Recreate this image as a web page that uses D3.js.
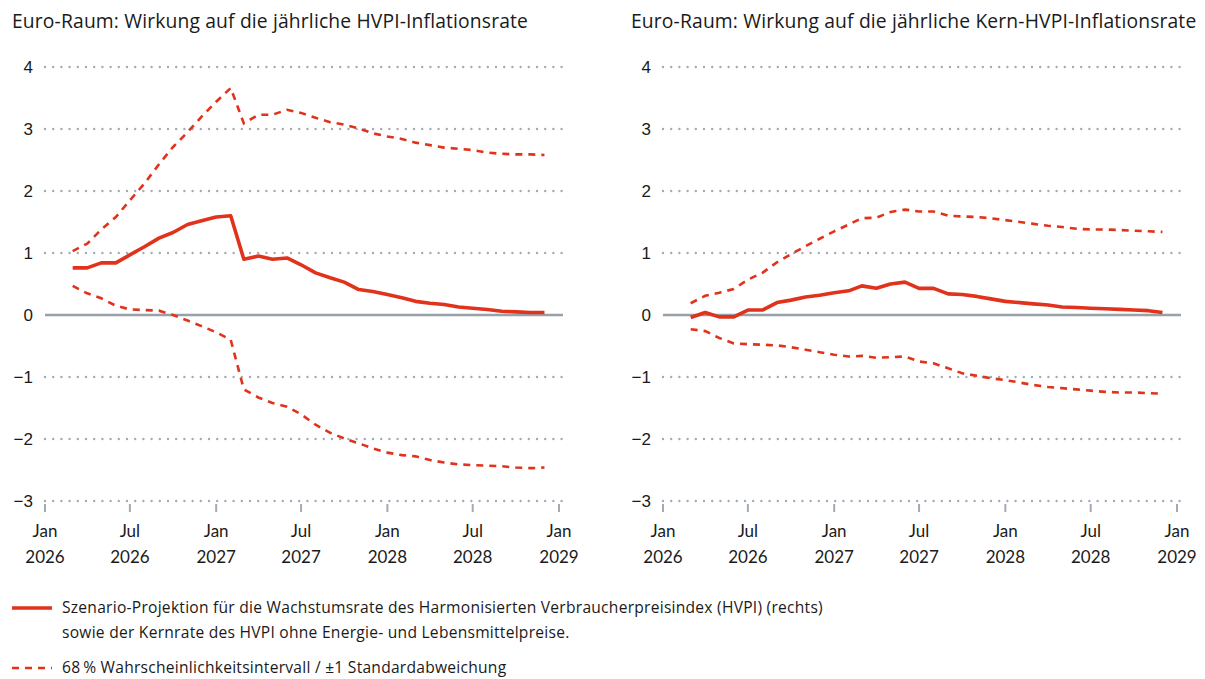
<!DOCTYPE html>
<html lang="de">
<head>
<meta charset="UTF-8">
<title>Euro-Raum: Wirkung auf die Inflationsrate</title>
<script src="https://cdn.jsdelivr.net/npm/d3@7"></script>
<style>
body { margin: 0; background: #fff; }
svg { font-family: Lato, "Open Sans", sans-serif; }
text { fill: #1a1a1a; }
.title { font-family: "Open Sans", sans-serif; font-size: 19.3px; letter-spacing: 0.15px; }
.xlab { font-size: 17px; }
.legend text { font-family: "Open Sans", sans-serif; font-size: 15.6px; letter-spacing: 0.25px; }
</style>
</head>
<body>
<svg width="1205" height="679"></svg>
<script>
// monthly points, Mar 2026 .. Dec 2028
var months = d3.timeMonth.range(new Date(2026, 2, 1), new Date(2029, 0, 1));

var hvpiMid = [0.76, 0.76, 0.84, 0.84, 0.97, 1.10, 1.24, 1.33, 1.46, 1.52, 1.58, 1.60,
  0.90, 0.95, 0.90, 0.92, 0.81, 0.68, 0.60, 0.53, 0.41, 0.38, 0.33, 0.28, 0.22, 0.19,
  0.17, 0.13, 0.11, 0.09, 0.06, 0.05, 0.04, 0.04];
var hvpiUp = [1.03, 1.15, 1.38, 1.58, 1.85, 2.12, 2.43, 2.71, 2.95, 3.20, 3.44, 3.66,
  3.09, 3.23, 3.23, 3.31, 3.26, 3.18, 3.11, 3.07, 3.01, 2.93, 2.88, 2.84, 2.78, 2.74,
  2.70, 2.68, 2.66, 2.62, 2.60, 2.59, 2.59, 2.58];
var hvpiLo = [0.47, 0.35, 0.27, 0.15, 0.09, 0.08, 0.07, 0.00, -0.09, -0.18, -0.28, -0.40,
  -1.20, -1.33, -1.42, -1.48, -1.60, -1.77, -1.90, -1.99, -2.07, -2.15, -2.22, -2.26, -2.28, -2.34,
  -2.38, -2.41, -2.42, -2.43, -2.44, -2.46, -2.47, -2.46];

var kernMid = [-0.04, 0.04, -0.03, -0.03, 0.08, 0.08, 0.20, 0.24, 0.29, 0.32, 0.36, 0.39,
  0.47, 0.43, 0.50, 0.53, 0.43, 0.43, 0.34, 0.33, 0.30, 0.26, 0.22, 0.20, 0.18, 0.16,
  0.13, 0.12, 0.11, 0.10, 0.09, 0.08, 0.07, 0.04];
var kernUp = [0.19, 0.31, 0.36, 0.42, 0.57, 0.68, 0.85, 0.98, 1.11, 1.23, 1.35, 1.46,
  1.56, 1.57, 1.66, 1.70, 1.67, 1.67, 1.60, 1.59, 1.58, 1.56, 1.53, 1.50, 1.47, 1.44,
  1.42, 1.39, 1.38, 1.38, 1.37, 1.36, 1.35, 1.34];
var kernLo = [-0.23, -0.26, -0.37, -0.46, -0.47, -0.48, -0.49, -0.52, -0.56, -0.60, -0.64, -0.67,
  -0.66, -0.69, -0.68, -0.67, -0.75, -0.78, -0.86, -0.94, -0.98, -1.02, -1.05, -1.09, -1.13, -1.16,
  -1.18, -1.20, -1.22, -1.24, -1.25, -1.25, -1.26, -1.27];

var yTicks = [4, 3, 2, 1, 0, -1, -2, -3];
var xTicks = [new Date(2026, 0, 1), new Date(2026, 6, 1), new Date(2027, 0, 1), new Date(2027, 6, 1),
  new Date(2028, 0, 1), new Date(2028, 6, 1), new Date(2029, 0, 1)];
var monthNames = { 0: "Jan", 6: "Jul" };

var titles = ["Euro-Raum: Wirkung auf die jährliche HVPI-Inflationsrate",
  "Euro-Raum: Wirkung auf die jährliche Kern-HVPI-Inflationsrate"];

var red = "#e1321c", grey = "#a2abb3";
var svg = d3.select("svg");

var y = d3.scaleLinear().domain([-3, 4]).range([501, 67]);

function panel(x0, tx, title, mid, up, lo) {
  var g = svg.append("g");
  var x = d3.scaleTime().domain([xTicks[0], xTicks[6]]).range([x0, x0 + 514]);
  var xEnd = x0 + 518;

  g.append("text").attr("class", "title").attr("x", tx).attr("y", 28).text(title);

  // dotted grid
  g.selectAll(".grid").data(yTicks.filter(function(d) { return d != 0; })).enter()
    .append("line")
    .attr("x1", x0).attr("x2", xEnd)
    .attr("y1", function(d) { return y(d); }).attr("y2", function(d) { return y(d); })
    .attr("stroke", grey).attr("stroke-width", 2.4)
    .attr("stroke-linecap", "round").attr("stroke-dasharray", "0 8.2");

  g.append("line").attr("x1", x0).attr("x2", xEnd).attr("y1", y(0)).attr("y2", y(0))
    .attr("stroke", "#97a1a9").attr("stroke-width", 2.5);

  var ya = g.append("g")
    .attr("transform", "translate(" + (x0 - 12) + ",0)")
    .call(d3.axisLeft(y).tickValues(yTicks).tickSize(0).tickPadding(0).tickFormat(d3.format("d")));
  ya.select(".domain").remove();
  ya.selectAll("text").attr("font-size", 17).attr("font-family", null).attr("fill", "#1a1a1a");

  // x ticks
  var xt = g.selectAll(".xt").data(xTicks).enter().append("g")
    .attr("transform", function(d) { return "translate(" + x(d) + ",0)"; });
  xt.append("line").attr("y1", 504).attr("y2", 512).attr("stroke", grey).attr("stroke-width", 2);
  xt.append("text").attr("class", "xlab").attr("text-anchor", "middle").attr("y", 537)
    .text(function(d) { return monthNames[d.getMonth()]; });
  xt.append("text").attr("class", "xlab").attr("text-anchor", "middle").attr("y", 563)
    .text(function(d) { return d.getFullYear(); });

  function line(vals) {
    return d3.line().x(function(d, i) { return x(months[i]); }).y(function(d) { return y(d); })(vals);
  }
  [up, lo].forEach(function(v) {
    g.append("path").attr("d", line(v)).attr("fill", "none").attr("stroke", red)
      .attr("stroke-width", 2.6).attr("stroke-dasharray", "7 6");
  });
  g.append("path").attr("d", line(mid)).attr("fill", "none").attr("stroke", red)
    .attr("stroke-width", 3.6).attr("stroke-linejoin", "round");
}

panel(45, 12, titles[0], hvpiMid, hvpiUp, hvpiLo);
panel(663, 631, titles[1], kernMid, kernUp, kernLo);

// legend
var lg = svg.append("g").attr("class", "legend");
lg.append("line").attr("x1", 12).attr("x2", 52).attr("y1", 608).attr("y2", 608)
  .attr("stroke", red).attr("stroke-width", 3.6);
lg.append("text").attr("x", 62).attr("y", 613)
  .text("Szenario-Projektion für die Wachstumsrate des Harmonisierten Verbraucherpreisindex (HVPI) (rechts)");
lg.append("text").attr("x", 62).attr("y", 638)
  .text("sowie der Kernrate des HVPI ohne Energie- und Lebensmittelpreise.");
lg.append("line").attr("x1", 12).attr("x2", 52).attr("y1", 668).attr("y2", 668)
  .attr("stroke", red).attr("stroke-width", 2.6).attr("stroke-dasharray", "7 6");
lg.append("text").attr("x", 62).attr("y", 673)
  .text("68\u2009% Wahrscheinlichkeitsintervall / ±1 Standardabweichung");
</script>
</body>
</html>
